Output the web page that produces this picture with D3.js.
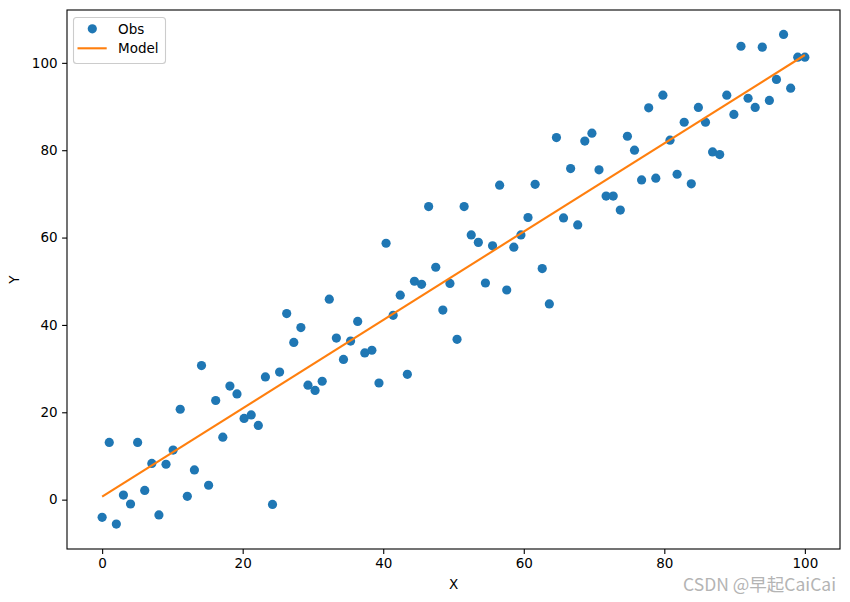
<!DOCTYPE html>
<html>
<head>
<meta charset="utf-8">
<script src="https://cdn.jsdelivr.net/npm/d3@7"></script>
<style>
  html, body { margin: 0; padding: 0; background: #fff; }
  svg { display: block; font-family: "DejaVu Sans", sans-serif; }
</style>
</head>
<body>
<svg id="chart" width="850" height="602"></svg>
<script>
// Observed values (100 points, x evenly spaced from 0 to 100)
const obsY = [
  -4.05, 13.1, -5.6, 1.05, -1.0, 13.1, 2.1, 8.3, -3.5, 8.1,
  11.35, 20.7, 0.75, 6.8, 30.7, 3.3, 22.7, 14.3, 26.0, 24.2,
  18.6, 19.4, 17.0, 28.1, -1.1, 29.2, 42.6, 36.0, 39.4, 26.2,
  25.0, 27.1, 45.9, 37.0, 32.1, 36.3, 40.8, 33.6, 34.2, 26.7,
  58.7, 42.2, 46.8, 28.7, 50.0, 49.3, 67.1, 53.2, 43.4, 49.5,
  36.7, 67.1, 60.6, 58.9, 49.6, 58.1, 72.0, 48.0, 57.8, 60.6,
  64.6, 72.2, 52.9, 44.8, 82.9, 64.5, 75.8, 62.9, 82.1, 83.9,
  75.5, 69.5, 69.5, 66.3, 83.2, 80.0, 73.2, 89.7, 73.6, 92.6,
  82.3, 74.5, 86.4, 72.3, 89.8, 86.4, 79.6, 79.0, 92.6, 88.2,
  103.8, 91.9, 89.8, 103.6, 91.4, 96.2, 106.5, 94.2, 101.3, 101.3
];
const obsX = obsY.map((_, i) => i * 100 / 99);

// Model line endpoints
const modelX = [0, 100];
const modelY = [0.7, 101.8];

const xTicks = [0, 20, 40, 60, 80, 100];
const yTicks = [0, 20, 40, 60, 80, 100];
const legendLabels = ["Obs", "Model"];

const blue = "#1f77b4", orange = "#ff7f0e";
const L = 67, R = 840, T = 10, B = 549;

const svg = d3.select("#chart");
const x = d3.scaleLinear().domain([-5, 105]).range([L, R]);
const y = d3.scaleLinear().domain([-11.3, 112.1]).range([B, T]);

// Observations
svg.append("g").selectAll("circle")
  .data(obsY)
  .join("circle")
  .attr("cx", (d, i) => x(obsX[i]))
  .attr("cy", d => y(d))
  .attr("r", 4.6)
  .attr("fill", blue);

// Model line (drawn on top)
const line = d3.line().x(d => x(d[0])).y(d => y(d[1]));
svg.append("path")
  .datum(modelX.map((v, i) => [v, modelY[i]]))
  .attr("d", line)
  .attr("fill", "none")
  .attr("stroke", orange)
  .attr("stroke-width", 2.1);

// Axes
const xAxis = svg.append("g")
  .attr("transform", `translate(0,${B})`)
  .call(d3.axisBottom(x).tickValues(xTicks).tickSize(4.9).tickPadding(4.5).tickFormat(d3.format("d")));
const yAxis = svg.append("g")
  .attr("transform", `translate(${L},0)`)
  .call(d3.axisLeft(y).tickValues(yTicks).tickSize(4.9).tickPadding(4.5).tickFormat(d3.format("d")));
[xAxis, yAxis].forEach(g => {
  g.select(".domain").remove();
  g.selectAll("line").attr("stroke", "#000").attr("stroke-width", 1.1);
  g.selectAll("text").attr("font-size", "13.5px").attr("fill", "#000")
    .attr("font-family", "DejaVu Sans, sans-serif");
});

// Frame
svg.append("rect")
  .attr("x", L).attr("y", T).attr("width", R - L).attr("height", B - T)
  .attr("fill", "none").attr("stroke", "#000").attr("stroke-width", 1.1);

// Axis labels
svg.append("text").attr("x", (L + R) / 2).attr("y", 589)
  .attr("text-anchor", "middle").attr("font-size", "13.5px").text("X");
svg.append("text")
  .attr("transform", `translate(19,${(T + B) / 2}) rotate(-90)`)
  .attr("text-anchor", "middle").attr("font-size", "13.5px").text("Y");

// Legend
const lg = svg.append("g");
lg.append("rect")
  .attr("x", 73.5).attr("y", 17.5).attr("width", 92).attr("height", 46)
  .attr("rx", 3).attr("fill", "#fff").attr("fill-opacity", 0.8)
  .attr("stroke", "#cccccc").attr("stroke-width", 1.1);
lg.append("circle").attr("cx", 92.3).attr("cy", 28.8).attr("r", 4.6).attr("fill", blue);
lg.append("line").attr("x1", 77.5).attr("x2", 106.7).attr("y1", 48.3).attr("y2", 48.3)
  .attr("stroke", orange).attr("stroke-width", 2.1);
lg.selectAll("text.lab")
  .data(legendLabels)
  .join("text")
  .attr("class", "lab")
  .attr("x", 118)
  .attr("y", (d, i) => 33.5 + i * 19.6)
  .attr("font-size", "13.5px")
  .text(d => d);

// Watermark
svg.append("text")
  .attr("x", 836).attr("y", 591)
  .attr("text-anchor", "end")
  .attr("font-size", "17.5px")
  .attr("font-family", "'Noto Sans CJK SC', 'DejaVu Sans', sans-serif")
  .attr("fill", "#b4b4b4")
  .text("CSDN @早起CaiCai");
</script>
</body>
</html>
